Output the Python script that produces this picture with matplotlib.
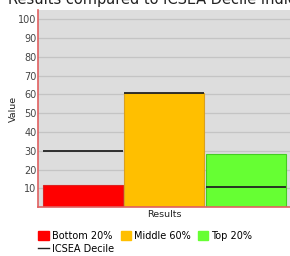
import matplotlib.pyplot as plt
from matplotlib.lines import Line2D
from matplotlib.patches import Patch

categories = ['Bottom 20%', 'Middle 60%', 'Top 20%']
values = [12, 61, 28.5]
decile = [30, 61, 10.5]
bar_colors = ['#ff0000', '#ffbf00', '#66ff33']
edge_colors = ['#dd2222', '#d9a020', '#44cc22']
yticks = [10, 20, 30, 40, 50, 60, 70, 80, 90, 100]

fig = plt.figure(figsize=(2.9, 2.56), dpi=100)
ax = fig.add_axes([0.131, 0.191, 0.869, 0.770])
ax.set_facecolor('#dddddd')

x = range(len(categories))
width = 0.978
ax.bar(x, values, width=width, color=bar_colors, edgecolor=edge_colors,
       linewidth=0.8, zorder=2)
for i, d in zip(x, decile):
    ax.hlines(d, i - width / 2, i + width / 2, color='#222222',
              linewidth=1.3, zorder=3)

ax.set_ylim(0, 105)
ax.set_xlim(-0.548, 2.54)
ax.set_yticks(yticks)
ax.set_xticks([])
ax.yaxis.grid(True, color='#c4c4c4', linewidth=0.9, zorder=0)
ax.set_axisbelow(True)
ax.tick_params(axis='y', length=0, labelsize=7, labelcolor='#444444', pad=1)
for s in ['top', 'right']:
    ax.spines[s].set_visible(False)
for s in ['left', 'bottom']:
    ax.spines[s].set_color('#e06060')
    ax.spines[s].set_linewidth(1.2)

ax.set_xlabel('Results', fontsize=6.8, color='#222222', labelpad=2)
ax.set_ylabel('Value', fontsize=6.8, color='#222222', labelpad=0)

fig.text(8 / 290, 1 - 4 / 256, 'Results compared to ICSEA Decile Indicators',
         fontsize=10.5, color='#222222', va='baseline', ha='left')

handles = [Patch(color=bar_colors[0]),
           Line2D([], [], color='#222222', linewidth=1),
           Patch(color=bar_colors[1]),
           Patch(color=bar_colors[2])]
labels = [categories[0], 'ICSEA Decile', categories[1], categories[2]]
fig.legend(handles, labels, ncol=3, loc='upper left',
           bbox_to_anchor=(38 / 290, 1 - 231 / 256), frameon=False,
           fontsize=7, handlelength=1.1, handleheight=1.1,
           handletextpad=0.3, columnspacing=0.7, labelspacing=0.3,
           borderpad=0, borderaxespad=0)

fig.savefig('out.png', dpi=100)
